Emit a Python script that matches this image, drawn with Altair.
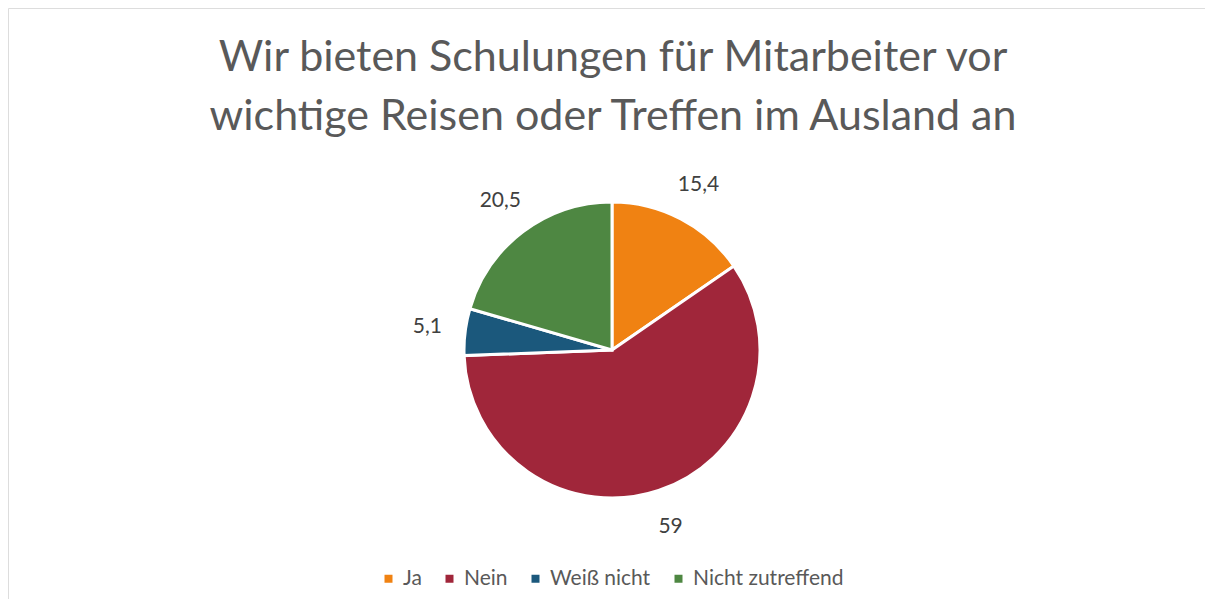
import altair as alt
import pandas as pd

categories = ["Ja", "Nein", "Weiß nicht", "Nicht zutreffend"]
values = [15.4, 59, 5.1, 20.5]
labels = ["15,4", "59", "5,1", "20,5"]
colors = ["#F08212", "#A0263A", "#1B587C", "#4E8742"]
title_lines = ["Wir bieten Schulungen für Mitarbeiter vor", "wichtige Reisen oder Treffen im Ausland an"]

df = pd.DataFrame({"cat": categories, "val": values, "label": labels, "order": list(range(len(categories)))})
tdf = pd.DataFrame({"line": title_lines, "i": [0, 1]})

CX, CY = 604, 342
FONT = "Lato"

color = alt.Color("cat:N", scale=alt.Scale(domain=categories, range=colors),
                  legend=alt.Legend(title=None, orient="none", direction="horizontal",
                                    legendX=370, legendY=560, symbolType="square", symbolSize=64,
                                    labelFontSize=21, labelColor="#595959", labelFont=FONT,
                                    labelOffset=4, columnPadding=17, symbolStrokeWidth=0))

base = alt.Chart(df).encode(
    theta=alt.Theta("val:Q", stack=True),
    order=alt.Order("order:Q"),
)

arcs = base.mark_arc(radius=148, stroke="white", strokeWidth=3).encode(
    color=color, x=alt.value(CX), y=alt.value(CY))

text = base.mark_text(radius=186, fontSize=21, color="#404040", font=FONT).encode(
    text="label:N", x=alt.value(CX), y=alt.value(CY))

title = alt.Chart(tdf).mark_text(fontSize=43, color="#595959", font=FONT, align="center",
                                 baseline="alphabetic").encode(
    text="line:N",
    x=alt.value(605),
    y=alt.Y("i:Q", scale=alt.Scale(domain=[0, 1], range=[63, 122]), axis=None),
)

chart = alt.layer(arcs, text, title).properties(
    width=1197, height=591, padding=0
).resolve_scale(y="independent").configure_view(stroke="#d9d9d9", strokeWidth=1).configure(background="white")

chart.save("out.html", embed_options={"renderer": "svg", "actions": False})
